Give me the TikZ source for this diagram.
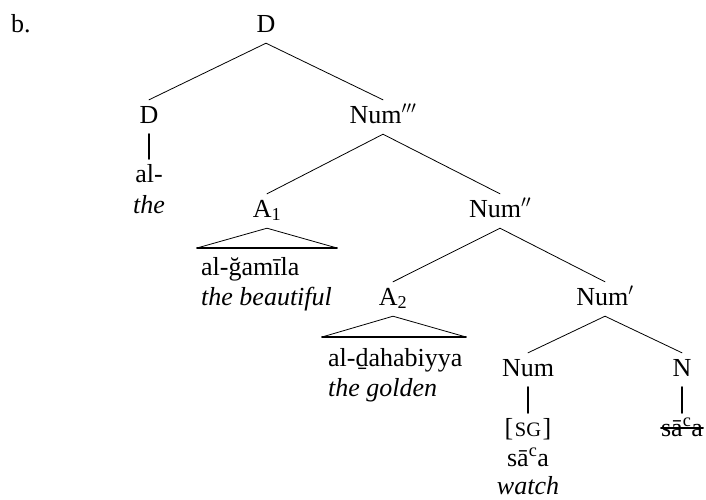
\documentclass[tikz,border=0pt]{standalone}
\usepackage{fontspec}
\setmainfont{Liberation Serif}
\usetikzlibrary{calc}

\begin{document}
\begin{tikzpicture}[x=1pt, y=-1pt, line join=round, line cap=round,
    word/.style={inner sep=0pt, anchor=base, font=\fontsize{26pt}{31pt}\selectfont},
    cat/.style={word, text height=23pt, text depth=11pt},
    gloss/.style={word, font=\fontsize{26pt}{31pt}\selectfont\itshape},
    branch/.style={line width=0.8pt},
    stem/.style={line width=2pt},
    roofbase/.style={line width=1.8pt},
    strike/.style={line width=1.6pt}]
    % page frame
    \useasboundingbox (0,0) rectangle (706,499);

    % example label
    \node[word, anchor=base west] (ex) at (11,32) {b.};

    % 1. category nodes, row by row
    \node[cat] (D0) at (266,32) {D};
    \node[cat] (D1) at (149,123) {D};
    \node[cat] (N3) at (383,123) {Num$'''$};
    \node[cat] (A1) at (267,217) {A\textsubscript{1}};
    \node[cat] (N2) at (500,217) {Num$''$};
    \node[cat] (A2) at (393,305) {A\textsubscript{2}};
    \node[cat] (N1) at (605,305) {Num$'$};
    \node[cat] (Num) at (528,376) {Num};
    \node[cat] (N) at (682,376) {N};

    % 2. branches
    \draw[branch] (D0.south) -- (D1.north);
    \draw[branch] (D0.south) -- (N3.north);
    \draw[branch] (N3.south) -- (A1.north);
    \draw[branch] (N3.south) -- (N2.north);
    \draw[branch] (N2.south) -- (A2.north);
    \draw[branch] (N2.south) -- (N1.north);
    \draw[branch] (N1.south) -- (Num.north);
    \draw[branch] (N1.south) -- (N.north);

    % 3. leaf under D
    \node[cat] (al) at (149,182) {al-};
    \node[gloss] (the) at (149,213) {the};
    \draw[stem] (D1.south) -- (al.north);

    % 4. roof under A_1
    \coordinate (r1l) at (197,248);
    \coordinate (r1r) at (337,248);
    \draw[branch] (r1l) -- (A1.south) -- (r1r);
    \draw[roofbase] (r1l) -- (r1r);
    \node[word, anchor=base west] (gamila) at (201,275) {al-ğamīla};
    \node[gloss, anchor=base west] (beautiful) at (201,305) {the beautiful};

    % 5. roof under A_2
    \coordinate (r2l) at (322,337);
    \coordinate (r2r) at (466,337);
    \draw[branch] (r2l) -- (A2.south) -- (r2r);
    \draw[roofbase] (r2l) -- (r2r);
    \node[word, anchor=base west] (dahab) at (328,366) {al-ḏahabiyya};
    \node[gloss, anchor=base west] (golden) at (328,396) {the golden};

    % 6. leaves under Num and N
    \node[cat] (sg) at (528,436) {[\kern1.5pt{\fontsize{20.5pt}{24pt}\selectfont SG}\kern1.5pt]};
    \node[word] (saa) at (528,466) {sā\textsuperscript{c}a};
    \node[gloss] (watch) at (528,494) {watch};
    \draw[stem] (Num.south) -- (sg.north);

    \node[cat] (saaN) at (682,436) {sā\textsuperscript{c}a};
    \draw[stem] (N.south) -- (saaN.north);
    \draw[strike] ([yshift=8pt]saaN.base west) -- ([yshift=8pt]saaN.base east);
\end{tikzpicture}
\end{document}
